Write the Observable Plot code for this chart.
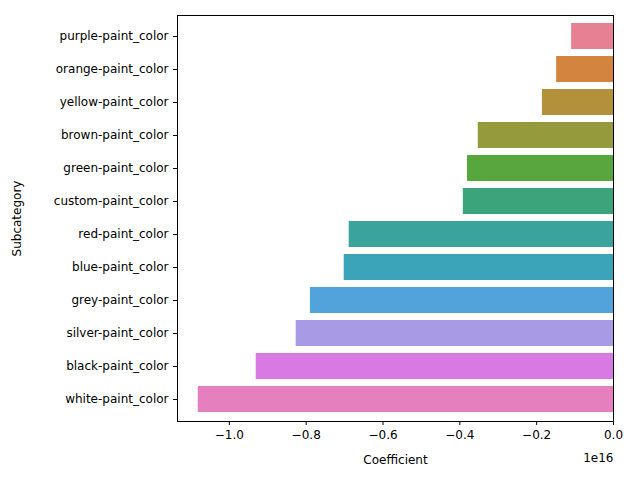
<!DOCTYPE html>
<html><head>
<script src="https://cdn.jsdelivr.net/npm/d3@7"></script>
<script src="https://cdn.jsdelivr.net/npm/@observablehq/plot@0.6"></script>
<style>body{margin:0;background:#fff}</style>
</head><body><div id="c"></div>
<script>
const categories = ["purple-paint_color","orange-paint_color","yellow-paint_color","brown-paint_color","green-paint_color","custom-paint_color","red-paint_color","blue-paint_color","grey-paint_color","silver-paint_color","black-paint_color","white-paint_color"];
const coefficients = [-0.109,-0.148,-0.185,-0.352,-0.380,-0.391,-0.688,-0.701,-0.789,-0.826,-0.930,-1.081]; // ×1e16
const colors = ["#e68193","#d3843f","#b3913a","#959a3c","#58a73e","#3ca47a","#3aa39c","#3ca4b9","#52a2dc","#a89ae4","#d879e4","#e57fbd"];
const xTicks = [-1.0,-0.8,-0.6,-0.4,-0.2,0.0];
const data = categories.map((c,i)=>({c, v:coefficients[i], col:colors[i]}));
const fmt = d => d3.format(".1f")(d).replace("-", "−");
const chart = Plot.plot({
  width:640, height:480, marginLeft:177, marginRight:27, marginTop:15, marginBottom:59,
  style:{fontFamily:"DejaVu Sans", fontSize:"12px", color:"#000"},
  x:{domain:[-1.135,0], ticks:xTicks, tickFormat:fmt, label:"Coefficient", labelAnchor:"center", labelArrow:"none", labelOffset:42, tickSize:4},
  y:{domain:categories, label:"Subcategory", labelAnchor:"center", labelArrow:"none", labelOffset:165, padding:0.2, tickSize:4},
  color:{type:"identity"},
  marks:[
    Plot.barX(data,{x1:0,x2:"v",y:"c",fill:"col"}),
    Plot.frame({stroke:"#000"}),
    Plot.text(["1e16"],{frameAnchor:"bottom-right", dy:40, dx:0, textAnchor:"end", fontSize:12})
  ]
});
document.getElementById("c").append(chart);
</script></body></html>
